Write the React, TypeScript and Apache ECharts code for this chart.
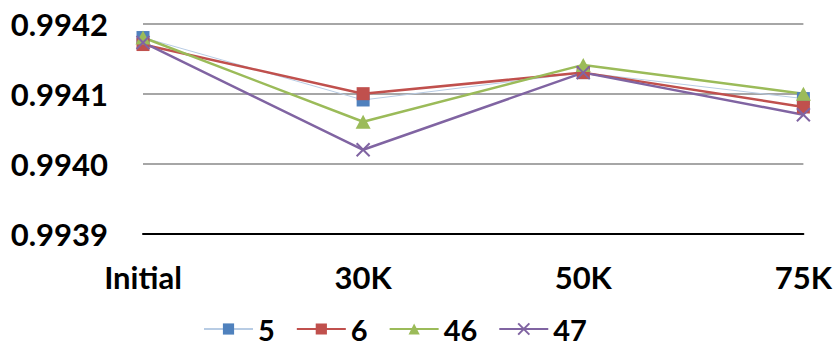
import React, { useEffect, useRef } from "react";
import * as echarts from "echarts";

const categories = ["Initial", "30K", "50K", "75K"];
const seriesNames = ["5", "6", "46", "47"];
const s5 = [0.99418, 0.994091, 0.99413, 0.994093];
const s6 = [0.99417, 0.9941, 0.99413, 0.994081];
const s46 = [0.99418, 0.99406, 0.994141, 0.9941];
const s47 = [0.994173, 0.99402, 0.99413, 0.99407];
const yMin = 0.9939;
const yMax = 0.9942;
const yStep = 0.0001;

const FONT = "Lato";

export default function App() {
  const ref = useRef<HTMLDivElement>(null);
  useEffect(() => {
    if (!ref.current) return;
    const chart = echarts.init(ref.current, null, { renderer: "svg" });
    const crossPath = "path://M0,0L10,10M10,0L0,10";
    chart.setOption({
      animation: false,
      backgroundColor: "#ffffff",
      grid: { left: 143, right: 30, top: 23.5, bottom: 115, containLabel: false },
      legend: {
        left: 203,
        top: 314,
        padding: 0,
        itemWidth: 49,
        itemHeight: 14,
        itemGap: 21,
        textStyle: { fontFamily: FONT, fontWeight: "bold", fontSize: 29, color: "#000", lineHeight: 30 },
        data: seriesNames,
      },
      xAxis: {
        type: "category",
        data: categories,
        boundaryGap: false,
        axisLine: { lineStyle: { color: "#000", width: 2 } },
        axisTick: { show: false },
        axisLabel: {
          margin: 27,
          fontFamily: FONT,
          fontWeight: "bold",
          fontSize: 31,
          color: "#000",
        },
        splitLine: { show: false },
      },
      yAxis: {
        type: "value",
        min: yMin,
        max: yMax,
        interval: yStep,
        axisLine: { show: false },
        axisTick: { show: false },
        axisLabel: {
          margin: 35,
          fontFamily: FONT,
          fontWeight: "bold",
          fontSize: 31,
          color: "#000",
          formatter: (v: number) => v.toFixed(4),
        },
        splitLine: { lineStyle: { color: "#a6a6a6", width: 2 } },
      },
      series: [
        {
          name: seriesNames[0],
          type: "line",
          data: s5,
          symbol: "rect",
          symbolSize: 13,
          lineStyle: { color: "#b8cce4", width: 1 },
          itemStyle: { color: "#4f81bd" },
        },
        {
          name: seriesNames[1],
          type: "line",
          data: s6,
          symbol: "rect",
          symbolSize: 13,
          lineStyle: { color: "#c0504d", width: 2.5 },
          itemStyle: { color: "#c0504d" },
        },
        {
          name: seriesNames[2],
          type: "line",
          data: s46,
          symbol: "triangle",
          symbolSize: [15, 14],
          lineStyle: { color: "#9bbb59", width: 2.5 },
          itemStyle: { color: "#9bbb59" },
        },
        {
          name: seriesNames[3],
          type: "line",
          data: s47,
          symbol: crossPath,
          symbolSize: 13,
          lineStyle: { color: "#8064a2", width: 2.5 },
          itemStyle: { color: "#8064a2", borderColor: "#8064a2", borderWidth: 2 },
        },
      ],
    });
    return () => chart.dispose();
  }, []);
  return <div ref={ref} style={{ width: 835, height: 349, position: "absolute", left: 0, top: 0 }} />;
}
